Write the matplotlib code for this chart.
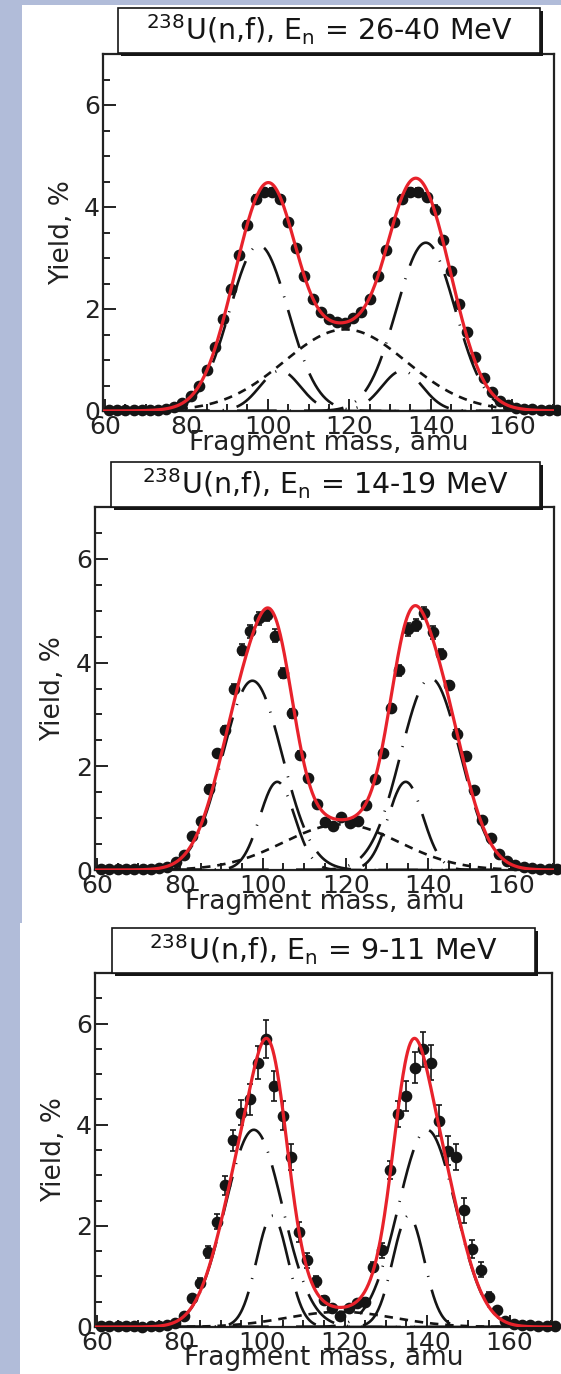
import numpy as np
import matplotlib
matplotlib.use("Agg")
import matplotlib.pyplot as plt
from matplotlib.patches import Rectangle

# ---------------- data ----------------
mass = list(range(61, 172, 2))   # 61, 63, ..., 171  (56 points)

yield_26_40 = [0.02, 0.02, 0.02, 0.02, 0.02, 0.02, 0.02, 0.04, 0.08, 0.16,
               0.29, 0.50, 0.80, 1.25, 1.80, 2.40, 3.05, 3.65, 4.15, 4.30,
               4.30, 4.15, 3.70, 3.20, 2.65, 2.20, 1.95, 1.80, 1.75, 1.72,
               1.82, 1.95, 2.20, 2.65, 3.15, 3.70, 4.15, 4.30, 4.30, 4.20,
               3.95, 3.35, 2.75, 2.10, 1.55, 1.05, 0.65, 0.38, 0.20, 0.11,
               0.06, 0.04, 0.03, 0.02, 0.02, 0.02]
err_26_40 = [0.01] * 9 + [0.02, 0.02, 0.03, 0.03, 0.04, 0.05, 0.05, 0.06, 0.07, 0.08,
             0.08, 0.08, 0.08, 0.07, 0.06, 0.05, 0.05, 0.05, 0.04, 0.04, 0.04,
             0.04, 0.05, 0.05, 0.05, 0.06, 0.07, 0.08, 0.08, 0.08, 0.08,
             0.08, 0.07, 0.06, 0.05, 0.05, 0.04, 0.04, 0.03, 0.03, 0.02] + [0.01] * 6

yield_14_19 = [0.01, 0.01, 0.01, 0.01, 0.01, 0.01, 0.02, 0.03, 0.05, 0.15,
               0.29, 0.65, 0.95, 1.57, 2.25, 2.70, 3.50, 4.25, 4.60, 4.85,
               4.92, 4.52, 3.80, 3.02, 2.22, 1.78, 1.27, 0.93, 0.84, 1.03,
               0.90, 0.95, 1.25, 1.75, 2.25, 3.12, 3.85, 4.64, 4.72, 4.96,
               4.58, 4.16, 3.56, 2.63, 2.20, 1.55, 0.97, 0.62, 0.30, 0.17,
               0.10, 0.06, 0.04, 0.02, 0.02, 0.02]
err_14_19 = [0.01] * 9 + [0.02, 0.03, 0.04, 0.05, 0.06, 0.07, 0.08, 0.09, 0.10, 0.12,
             0.12, 0.12, 0.12, 0.10, 0.08, 0.07, 0.06, 0.05, 0.05, 0.05, 0.05,
             0.05, 0.05, 0.05, 0.06, 0.07, 0.08, 0.10, 0.12, 0.12, 0.12,
             0.12, 0.10, 0.09, 0.08, 0.07, 0.06, 0.05, 0.04, 0.03, 0.02] + [0.01] * 6

yield_9_11 = [0.01, 0.01, 0.01, 0.01, 0.01, 0.00, 0.01, 0.02, 0.03, 0.08,
              0.21, 0.57, 0.87, 1.49, 2.08, 2.80, 3.69, 4.24, 4.50, 5.23,
              5.69, 4.77, 4.18, 3.36, 1.88, 1.32, 0.90, 0.54, 0.37, 0.21,
              0.37, 0.47, 0.50, 1.19, 1.52, 3.10, 4.21, 4.57, 5.13, 5.49,
              5.23, 4.08, 3.49, 3.36, 2.31, 1.55, 1.13, 0.60, 0.34, 0.11,
              0.06, 0.04, 0.03, 0.02, 0.02, 0.02]
err_9_11 = [0.01] * 9 + [0.03, 0.04, 0.06, 0.10, 0.12, 0.15, 0.18, 0.20, 0.25, 0.30,
            0.32, 0.38, 0.30, 0.28, 0.25, 0.20, 0.15, 0.10, 0.08, 0.06, 0.06,
            0.06, 0.06, 0.08, 0.10, 0.15, 0.18, 0.25, 0.30, 0.30, 0.35,
            0.35, 0.30, 0.28, 0.25, 0.25, 0.18, 0.15, 0.10, 0.06, 0.04] + [0.01] * 6

panel_titles = [r'$^{238}$U(n,f), E$_{\rm n}$ = 26-40 MeV',
                r'$^{238}$U(n,f), E$_{\rm n}$ = 14-19 MeV',
                r'$^{238}$U(n,f), E$_{\rm n}$ = 9-11 MeV']

# fitted fission modes (symmetric SL, asymmetric SI and SII) per panel
sl_center = [119.0, 119.0, 119.0]
sl_height = [1.60, 0.88, 0.30]
sl_sigma = [15.0, 14.0, 13.0]
s1_light_center = [103.0, 103.5, 102.5]
s1_heavy_center = [133.0, 134.5, 135.5]
s1_height = [0.79, 1.70, 2.20]
s1_sigma = [5.0, 4.2, 3.8]
s2_light_center = [97.8, 97.5, 98.0]
s2_heavy_center = [138.8, 140.5, 140.0]
s2_light_height = [3.25, 3.65, 3.90]
s2_heavy_height = [3.30, 3.70, 3.90]
s2_sigma = [7.2, 7.2, 7.0]

x_ticks = [60, 80, 100, 120, 140, 160]
y_ticks = [0, 2, 4, 6]

# ---------------- layout ----------------
W, H = 561, 1374
fig = plt.figure(figsize=(W / 100, H / 100), dpi=100)
fig.patch.set_facecolor('#b1bcd9')


def frac(x0, y0, x1, y1):
    return [x0 / W, 1 - y1 / H, (x1 - x0) / W, (y1 - y0) / H]


for (x0, y0, x1, y1) in [(22, 5, 561, 923), (20, 923, 561, 1374)]:
    l, b, w, h = frac(x0, y0, x1, y1)
    fig.add_artist(Rectangle((l, b), w, h, transform=fig.transFigure,
                             facecolor='white', edgecolor='none', zorder=-5))

axes_px = [(103, 54, 554, 411), (95, 507, 554, 870), (95, 973, 552, 1327)]
title_px = [(118, 8, 540, 53), (111, 462, 540, 507), (112, 928, 535, 973)]

yields = [yield_26_40, yield_14_19, yield_9_11]
errs = [err_26_40, err_14_19, err_9_11]

xs = np.linspace(59.5, 172, 700)


def gauss(x, c, h, s):
    return h * np.exp(-(x - c) ** 2 / (2 * s ** 2))


red = '#e8222b'
ink = '#151515'
long_dash = (0, (15, 5, 0.4, 5))
short_dash = (0, (3.2, 2.6))

for i in range(3):
    ax = fig.add_axes(frac(*axes_px[i]))
    ax.set_facecolor('white')
    ax.set_xlim(59.5, 170.3)
    ax.set_ylim(0, 7)

    sl = gauss(xs, sl_center[i], sl_height[i], sl_sigma[i])
    s1l = gauss(xs, s1_light_center[i], s1_height[i], s1_sigma[i])
    s1h = gauss(xs, s1_heavy_center[i], s1_height[i], s1_sigma[i])
    s2l = gauss(xs, s2_light_center[i], s2_light_height[i], s2_sigma[i])
    s2h = gauss(xs, s2_heavy_center[i], s2_heavy_height[i], s2_sigma[i])
    total = sl + s1l + s1h + s2l + s2h

    ax.errorbar(mass, yields[i], yerr=errs[i], fmt='o', color=ink,
                ms=7.4, elinewidth=1.2, capsize=2.2, capthick=1.2, zorder=3,
                clip_on=False)
    for comp in (s1l, s1h, s2l, s2h):
        ax.plot(xs, comp, color=ink, lw=1.9, ls=long_dash, zorder=4)
    ax.plot(xs, sl, color=ink, lw=1.9, ls=short_dash, zorder=4)
    ax.plot(xs, total, color=red, lw=2.3, zorder=5)

    ax.set_xticks(x_ticks)
    ax.set_xticks(np.arange(60, 171, 5), minor=True)
    ax.set_yticks(y_ticks)
    ax.set_yticks(np.arange(0, 7.01, 0.5), minor=True)
    ax.tick_params(which='both', direction='in', top=False, right=False,
                   width=1.4, colors='#222222')
    ax.tick_params(which='major', length=9, labelsize=18, pad=2)
    ax.tick_params(axis='x', which='major', pad=3)
    ax.tick_params(which='minor', length=5)
    for sp in ax.spines.values():
        sp.set_linewidth(1.6)
        sp.set_color('#222222')

    ax.set_xlabel('Fragment mass, amu', fontsize=19, color='#222222')
    ax.xaxis.set_label_coords(0.5, -0.052)
    ax.set_ylabel('Yield, %', fontsize=19, color='#222222')
    ax.yaxis.set_label_coords(-0.062, 0.5)

    # title box with drop shadow
    x0, y0, x1, y1 = title_px[i]
    l, b, w, h = frac(x0, y0, x1, y1)
    sh = 3
    fig.add_artist(Rectangle((l + sh / W, b - sh / H), w, h, transform=fig.transFigure,
                             facecolor=ink, edgecolor='none', zorder=6))
    fig.add_artist(Rectangle((l, b), w, h, transform=fig.transFigure,
                             facecolor='white', edgecolor=ink, lw=1.2, zorder=7))
    fig.text(l + w / 2, b + h / 2 + 1 / H, panel_titles[i], ha='center', va='center',
             fontsize=20.5, color=ink, zorder=8)

fig.savefig('out.png', dpi=100, facecolor=fig.get_facecolor())
